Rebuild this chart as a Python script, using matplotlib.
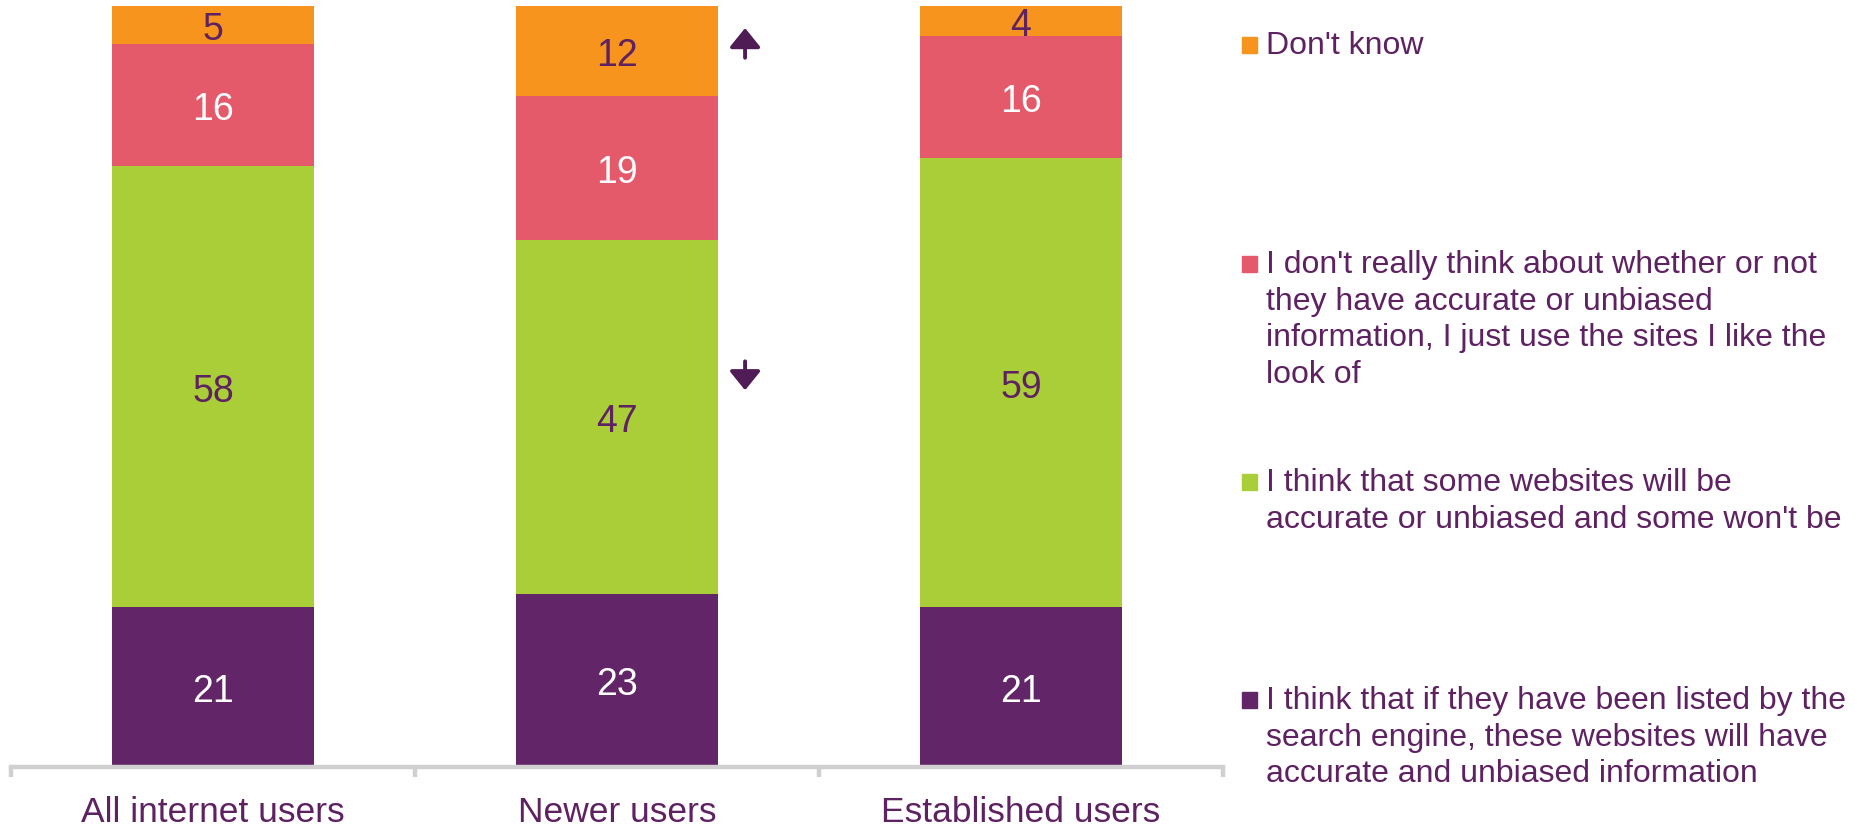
import numpy as np
import matplotlib
matplotlib.use("Agg")
import matplotlib.pyplot as plt
from matplotlib.patches import Rectangle

plt.rcParams['font.family'] = ['Liberation Sans', 'DejaVu Sans']

# Survey responses (%), stacked bottom to top
groups = ["All internet users", "Newer users", "Established users"]
listed_accurate = [21, 23, 21]
some_accurate = [58, 47, 59]
dont_think = [16, 19, 16]
dont_know = [5, 12, 4]

series_labels = [
    ["I think that if they have been listed by the",
     "search engine, these websites will have",
     "accurate and unbiased information"],
    ["I think that some websites will be",
     "accurate or unbiased and some won't be"],
    ["I don't really think about whether or not",
     "they have accurate or unbiased",
     "information, I just use the sites I like the",
     "look of"],
    ["Don't know"],
]
series_colors = ["#622567", "#A9CE38", "#E55A6B", "#F7941D"]
value_colors = ["white", "#5E2161", "white", "#5E2161"]
text_color = "#5E2161"

# Significance markers on the newer-users bar:
# (series index, arrow start/end as offsets below the segment top)
sig_marks = [(3, 6.8, 2.9), (1, 16.0, 19.8)]

W, H = 1858, 826
fig = plt.figure(figsize=(W / 100, H / 100), dpi=100)
ax = fig.add_axes([11 / W, 59 / H, 1212 / W, 761 / H])

series = np.array([listed_accurate, some_accurate, dont_think, dont_know], dtype=float)
shares = series / series.sum(axis=0) * 100
x = np.arange(len(groups))
bottom = np.zeros(len(groups))
for i in range(len(series)):
    ax.bar(x, shares[i], width=0.5, bottom=bottom, color=series_colors[i],
           edgecolor="none", zorder=2)
    for j in range(len(groups)):
        ax.annotate(f"{int(series[i][j])}",
                    xy=(x[j], bottom[j] + shares[i][j] / 2),
                    xytext=(0, -5), textcoords="offset pixels",
                    ha="center", va="center", fontsize=27, color=value_colors[i])
    bottom += shares[i]

# Arrows beside the newer-users bar
cum = np.cumsum(shares, axis=0)
for idx, start, end in sig_marks:
    top = cum[idx][1]
    ax.annotate("", xy=(1.317, top - end), xytext=(1.317, top - start),
                arrowprops=dict(arrowstyle="-|>,head_length=0.58,head_width=0.47",
                                mutation_scale=20, lw=2.8, color="#4F1C55",
                                shrinkA=0, shrinkB=0))

ax.set_xlim(-0.5, 2.5)
ax.set_ylim(0, 100)
for s in ["top", "right", "left"]:
    ax.spines[s].set_visible(False)
ax.spines["bottom"].set_color("#D0D0D0")
ax.spines["bottom"].set_linewidth(3.2)
ax.set_yticks([])
ax.set_xticks([-0.5, 0.5, 1.5, 2.5])
ax.set_xticklabels([])
ax.tick_params(axis="x", which="major", length=7, width=3.2, color="#D0D0D0")
ax.set_xticks(x, minor=True)
ax.set_xticklabels(groups, minor=True, fontsize=25.5, color=text_color)
ax.tick_params(axis="x", which="minor", length=0, pad=21)

# Legend, drawn top to bottom
legend_baselines = [54, 273, 491, 709]
line_step = 36.7
for k, (lines, col) in enumerate(zip(series_labels[::-1], series_colors[::-1])):
    yb = legend_baselines[k]
    fig.patches.append(Rectangle((1242 / W, 1 - (yb - 1) / H), 15 / W, 16 / H,
                                 transform=fig.transFigure, color=col))
    for n, line in enumerate(lines):
        fig.text(1266 / W, 1 - (yb + n * line_step) / H, line, ha="left",
                 va="baseline", fontsize=23, color=text_color)

fig.savefig("out.png", dpi=100)
